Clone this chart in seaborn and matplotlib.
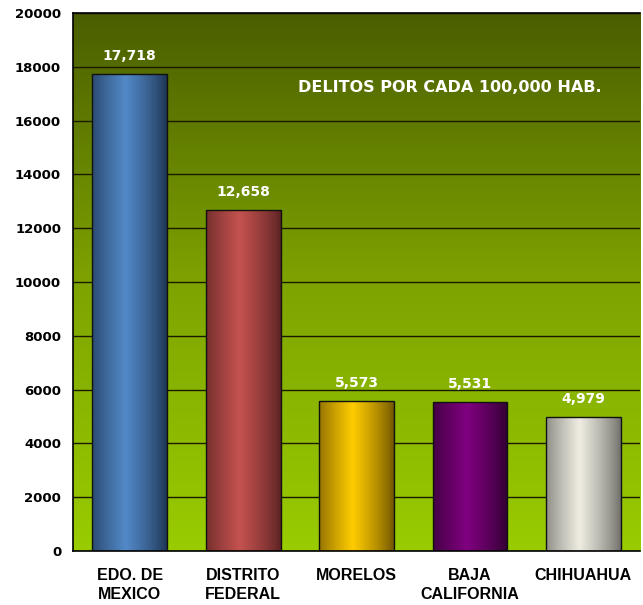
import numpy as np
import pandas as pd
import seaborn as sns
import matplotlib.pyplot as plt
from matplotlib.colors import LinearSegmentedColormap

# Datos
estados = ['EDO. DE\nMEXICO', 'DISTRITO\nFEDERAL', 'MORELOS', 'BAJA\nCALIFORNIA', 'CHIHUAHUA']
delitos = [17718, 12658, 5573, 5531, 4979]
etiquetas = ['17,718', '12,658', '5,573', '5,531', '4,979']

# colores (borde oscuro, centro claro)
colores = [
    ('#1e3452', '#5289c8'),
    ('#5a2222', '#c4524f'),
    ('#6e5400', '#ffcc00'),
    ('#2e002e', '#800080'),
    ('#6e6e68', '#efede2'),
]

df = pd.DataFrame({'estado': estados, 'delitos': delitos})

sns.set_style('white')
plt.rcParams['font.family'] = ['DejaVu Sans']

fig = plt.figure(figsize=(6.43, 6.05), dpi=100)
ax = fig.add_axes([0.1135, 0.0893, 0.882, 0.8892])

sns.barplot(data=df, x='estado', y='delitos', ax=ax, width=0.66,
            color='gray', edgecolor='#111111', linewidth=1.0, zorder=3)

# fondo degradado
fondo = LinearSegmentedColormap.from_list('fondo', ['#99cc00', '#7ea300', '#4a5e00'])
grad = np.linspace(0, 1, 256).reshape(-1, 1)
ax.imshow(grad, extent=(-0.5, 4.5, 0, 20000), origin='lower', aspect='auto',
          cmap=fondo, zorder=0)

# degradado de cada barra
x_grad = np.linspace(0, 1, 256)
perfil = np.clip(1 - np.abs(x_grad - 0.45) / 0.55, 0, 1) ** 0.8
for patch, (oscuro, claro) in zip(ax.patches, colores):
    patch.set_facecolor('none')
    cm = LinearSegmentedColormap.from_list('b', [oscuro, claro])
    x0, w, h = patch.get_x(), patch.get_width(), patch.get_height()
    ax.imshow(perfil.reshape(1, -1), extent=(x0, x0 + w, 0, h), aspect='auto',
              cmap=cm, vmin=0, vmax=1, zorder=2)

ax.set_ylim(0, 20000)
ax.set_xlim(-0.5, 4.5)

# etiquetas de valores
for i, (v, t) in enumerate(zip(delitos, etiquetas)):
    ax.text(i, v + 420, t, ha='center', va='bottom', color='white',
            fontsize=10, fontweight='bold', zorder=4)

ax.text(2.82, 17212, 'DELITOS POR CADA 100,000 HAB.', ha='center', va='center',
        color='white', fontsize=11.5, fontweight='bold', zorder=4)

ax.set_yticks(range(0, 20001, 2000))
ax.yaxis.grid(True, color='#1a1a00', linewidth=1.0)
for l in ax.get_ygridlines():
    l.set_zorder(1)

ax.set_xlabel('')
ax.set_ylabel('')
ax.set_xticks([-0.5, 0.5, 1.5, 2.5, 3.5, 4.5], minor=False)
ax.set_xticklabels([])
ax.set_xticks(range(5), minor=True)
ax.set_xticklabels(estados, minor=True, fontsize=11.5, fontweight='bold',
                   color='black', linespacing=1.4,
                   family=['Liberation Sans Narrow', 'Liberation Sans'])
ax.tick_params(axis='x', which='minor', length=0, pad=12)
ax.tick_params(axis='x', which='major', length=5, width=1, direction='out', color='black')
ax.tick_params(axis='y', length=5, width=1, direction='out', color='black',
               labelsize=9.5, labelcolor='black')
for lab in ax.get_yticklabels():
    lab.set_fontweight('bold')

for s in ['left', 'top', 'bottom']:
    ax.spines[s].set_color('black')
    ax.spines[s].set_linewidth(1.2)
ax.spines['right'].set_visible(False)

fig.savefig('out.png', dpi=100)
